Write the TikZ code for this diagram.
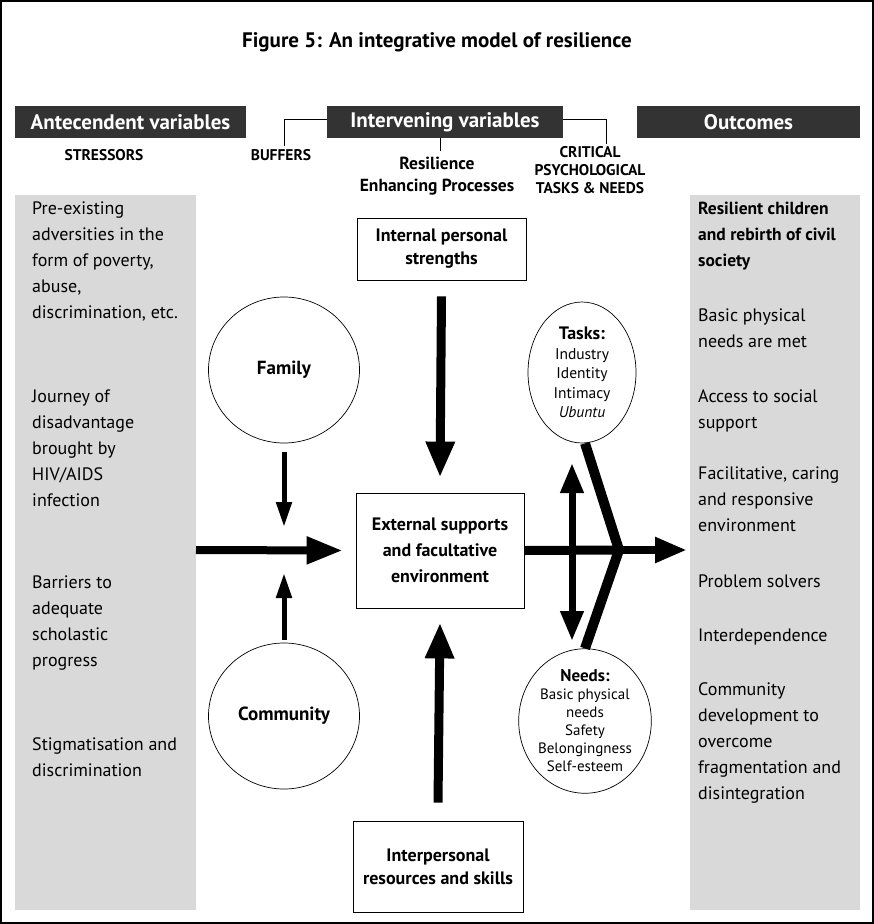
\documentclass[tikz,border=0pt]{standalone}
\usepackage{fontspec}
\setmainfont{PT Sans}
\usetikzlibrary{arrows.meta,shapes.geometric}
\definecolor{barcol}{HTML}{333333}
\definecolor{panelcol}{HTML}{D9D9D9}
\newcommand\fsz[2]{\fontsize{#1}{#2}\selectfont}
\tikzset{
  hbar/.style={fill=barcol,text=white,font=\bfseries\fsz{21}{22},inner sep=0,minimum height=32},
  sublabel/.style={font=\bfseries\fsz{15.5}{18},align=center,inner sep=0},
  ptext/.style={font=\fsz{18}{26},align=left,anchor=north west,inner sep=0},
  cbox/.style={draw,line width=0.8,font=\bfseries\fsz{18}{23},align=center,inner sep=0},
  circ/.style={draw,ellipse,line width=0.7,inner sep=0,align=center},
  bigarrow/.style={line width=9,-{Triangle[length=36,width=27]}},
  midarrow/.style={line width=7,{Triangle[length=30,width=22]}-{Triangle[length=30,width=22]}},
  smallarrow/.style={line width=5,-{Triangle[length=25,width=15]}},
  connector/.style={line width=0.8}
}
\begin{document}
\begin{tikzpicture}[x=1pt,y=-1pt]
\useasboundingbox (0,0) rectangle (874,924);
\draw[line width=1.5] (1,1) rectangle (873,923);
\node[font=\bfseries\fsz{21}{24}] (title) at (437,42) {Figure 5: An integrative model of resilience};
% header bars
\node[hbar,minimum width=231] (ante) at (130.5,122) {Antecendent variables};
\node[hbar,minimum width=236] (inter) at (445,122) {Intervening variables};
\node[hbar,minimum width=223] (outc) at (748.5,122) {Outcomes};
% sub labels
\node[sublabel] (stress) at (104,155) {STRESSORS};
\node[sublabel] (buff) at (281,155) {BUFFERS};
\node[sublabel,font=\bfseries\fsz{17.5}{22}] (resil) at (437,176) {Resilience\\Enhancing Processes};
\node[sublabel] (crit) at (590,170) {CRITICAL\\PSYCHOLOGICAL\\TASKS \& NEEDS};
\coordinate (bl) at (284,146);
\coordinate (cr) at (606,144);
\coordinate (rc) at (440,151);
\draw[connector] (inter.west |- 0,119) -| (bl);
\draw[connector] (inter.east |- 0,119) -| (cr);
\draw[connector] (inter.south -| rc) -- (rc);
% panels
\fill[panelcol] (15,195) rectangle (196,910);
\fill[panelcol] (690,195) rectangle (860,910);
% left texts
\node[ptext] (l1) at (32,202) {Pre-existing\\adversities in the\\form of poverty,\\abuse,\\discrimination, etc.};
\node[ptext] (l2) at (32,390) {Journey of\\disadvantage\\brought by\\HIV/AIDS\\infection};
\node[ptext] (l3) at (32,576) {Barriers to\\adequate\\scholastic\\progress};
\node[ptext] (l4) at (32,737) {Stigmatisation and\\discrimination};
% right texts
\node[ptext,font=\bfseries\fsz{17.5}{26}] (r1) at (698,202) {Resilient children\\and rebirth of civil\\society};
\node[ptext] (r2) at (698,309) {Basic physical\\needs are met};
\node[ptext] (r3) at (698,389) {Access to social\\support};
\node[ptext] (r4) at (698,467) {Facilitative, caring\\and responsive\\environment};
\node[ptext] (r5) at (698,575) {Problem solvers};
\node[ptext] (r6) at (698,629) {Interdependence};
\node[ptext] (r7) at (698,682) {Community\\development to\\overcome\\fragmentation and\\disintegration};
% boxes
\node[cbox,minimum width=169,minimum height=62] (internal) at (441.5,249) {Internal personal\\strengths};
\node[cbox,minimum width=168,minimum height=115,font=\bfseries\fsz{18}{26}] (external) at (440,550.5) {External supports\\and facultative\\environment};
\node[cbox,minimum width=170,minimum height=91] (interp) at (438,866.5) {Interpersonal\\resources and skills};
% circles
\node[circ,minimum width=151,minimum height=146,font=\bfseries\fsz{19}{20}] (family) at (284,370) {Family};
\node[circ,minimum width=151,minimum height=146,font=\bfseries\fsz{19}{20}] (community) at (284,716) {Community};
\node[circ,minimum width=108,minimum height=141,font=\fsz{15.5}{19.5}] (tasks) at (582,372.5) {{\bfseries\fsz{18}{19.5}Tasks:}\\Industry\\Identity\\Intimacy\\\emph{Ubuntu}};
\node[circ,minimum width=112,minimum height=138,font=\fsz{15}{18}] (needs) at (585,721) {{\bfseries\fsz{17}{18}Needs:}\\Basic physical\\needs\\Safety\\Belongingness\\Self-esteem};
% arrows
\coordinate (lstart) at (196,550);
\coordinate (chev) at (619,550);
\coordinate (rend) at (687,550);
\coordinate (dtop) at (572,463);
\coordinate (dbot) at (572,641);
\draw[line width=8,-{Triangle[length=36,width=26]}] (lstart) -- ([xshift=-13]external.west);
\draw[smallarrow] ([yshift=-9]family.south) -- (284,527);
\draw[smallarrow] ([yshift=3]community.north) -- (284,573);
\draw[bigarrow] ([yshift=-16]internal.south) -- ([yshift=15]external.north);
\draw[bigarrow] ([yshift=18]interp.north) -- ([yshift=-14]external.south);
\draw[line width=9] (external.east) -- (chev);
\draw[line width=8,-{Triangle[length=32,width=24]}] (chev) -- (rend);
\draw[midarrow] (dtop) -- (dbot);
\draw[line width=10,miter limit=10] ([xshift=3]tasks.south) -- (chev) -- ([xshift=0]needs.north);
\end{tikzpicture}
\end{document}
